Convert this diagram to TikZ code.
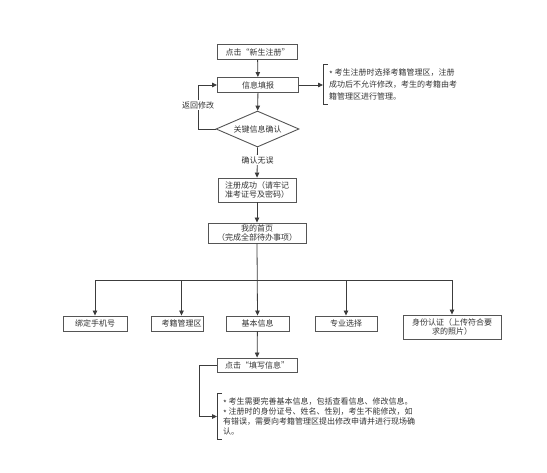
\documentclass[tikz,border=0pt]{standalone}
\usepackage{fontspec}
\newfontfamily\cjk{Noto Sans CJK SC}
\usetikzlibrary{arrows.meta,shapes.geometric}
\definecolor{ln}{HTML}{3C3C3C}
\definecolor{bd}{HTML}{555555}
\newcommand{\myast}{\raisebox{-1.8pt}{*}}
\tikzset{
  box/.style={draw=bd,line width=0.9pt,fill=white,font=\cjk\fontsize{8}{9.5}\selectfont,align=center,inner sep=0pt,text=black!80},
  dia/.style={diamond,draw=bd,line width=0.9pt,fill=white,font=\cjk\fontsize{8}{9.5}\selectfont,inner sep=0pt,aspect=2.3,text=black!80},
  note/.style={font=\cjk\fontsize{8}{12}\selectfont,align=left,inner xsep=6pt,inner ysep=0pt,anchor=west,text=black!80},
  lbl/.style={fill=white,font=\cjk\fontsize{8}{9.5}\selectfont,inner sep=1pt,text=black!80},
  arr/.style={draw=ln,line width=0.8pt,-{Triangle[length=5pt,width=4.5pt]}},
  brk/.style={draw=ln,line width=0.8pt}
}
\begin{document}
\begin{tikzpicture}[x=1pt,y=-1pt]
\useasboundingbox (0,0) rectangle (547,472);
\node[box,minimum width=80pt,minimum height=15pt] (reg) at (257.5,52) {点击“新生注册”};
\node[box,minimum width=81pt,minimum height=15pt] (fill) at (258,85) {信息填报};
\node[dia,minimum width=83pt,minimum height=36pt] (dec) at (257.5,129) {关键信息确认};
\node[box,minimum width=78pt,minimum height=24pt] (ok) at (257,190) {注册成功（请牢记\\准考证号及密码）};
\node[box,minimum width=98pt,minimum height=20pt] (home) at (257,233) {我的首页\\（完成全部待办事项）};
\node[box,minimum width=64pt,minimum height=15pt] (b1) at (95,323.5) {绑定手机号};
\node[box,minimum width=52pt,minimum height=15pt] (b2) at (177,323.5) {\hspace*{9pt}考籍管理区};
\node[box,minimum width=63pt,minimum height=15pt] (b3) at (257.5,323.5) {基本信息};
\node[box,minimum width=62pt,minimum height=15pt] (b4) at (346,323.5) {专业选择};
\node[box,minimum width=98pt,minimum height=24pt] (b5) at (452,327) {身份认证（上传符合要\\求的照片）};
\node[box,minimum width=80pt,minimum height=14pt] (fi) at (257,365) {点击“填写信息”};
\node[note,minimum height=39pt] (n1) at (323,84.5) {\myast\ 考生注册时选择考籍管理区，注册\\成功后不允许修改，考生的考籍由考\\籍管理区进行管理。};
\node[note,minimum height=45pt,font=\cjk\fontsize{8}{9.8}\selectfont] (n2) at (217,416.5) {\myast\ 考生需要完善基本信息，包括查看信息、修改信息。\\\myast\ 注册时的身份证号、姓名、性别，考生不能修改，如\\有错误，需要向考籍管理区提出修改申请并进行现场确\\认。};
% brackets
\draw[brk] ([xshift=5pt]n1.north west) -- (n1.north west) -- (n1.south west) -- ([xshift=5pt]n1.south west);
\draw[brk] ([xshift=5pt]n2.north west) -- (n2.north west) -- (n2.south west) -- ([xshift=5pt]n2.south west);
% connectors
\draw[arr] (reg) -- (fill);
\draw[arr] (fill) -- (dec);
\draw[arr] (fill.east) -- (fill.east -| n1.west);
\coordinate (lp) at (198,129);
\draw[arr] (dec.west) -- (lp) -- (lp |- fill.west) -- (fill.west);
\node[lbl] (ret) at (198,105) {返回修改};
\draw[arr] (dec.south) -- (ok.north);
\node[lbl] (conf) at (257.5,160) {确认无误};
\draw[arr] (ok) -- (home);
\coordinate (bus) at (257,280);
\draw[arr] (home.south) -- (b3.north);
\draw[arr] (bus) -| (b1.north);
\draw[arr] (bus) -| ([xshift=4.5pt]b2.north);
\draw[arr] (bus) -| (b4.north);
\draw[arr] (bus) -| (b5.north);
\draw[arr] (b3) -- (fi);
\coordinate (lp2) at (199,365);
\draw[arr] (fi.west) -- (lp2) -- (lp2 |- n2.west) -- (n2.west);
\end{tikzpicture}
\end{document}
